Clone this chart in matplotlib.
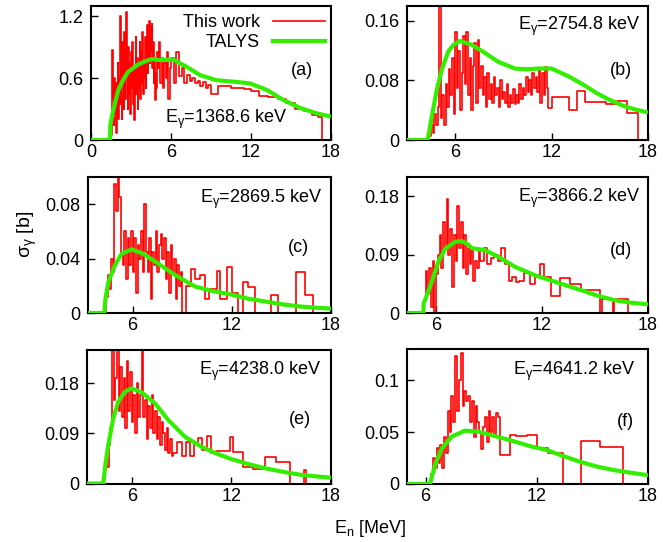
import numpy as np
import matplotlib
matplotlib.use('Agg')
import matplotlib.pyplot as plt

plt.rcParams['font.family'] = ['Liberation Sans', 'DejaVu Sans']
plt.rcParams['mathtext.fontset'] = 'custom'
plt.rcParams['mathtext.rm'] = 'Liberation Sans'
plt.rcParams['mathtext.it'] = 'Liberation Sans:italic'

RED = '#ff0000'
GREEN = '#33ee00'

# ---------------- panel (a) ----------------
a_fine = (1.5, 0.05, [0.05, 0.10, 0.87, 0.40, 0.15, 0.60, 0.25, 0.55, 0.07, 0.45,
                      0.75, 0.20, 0.60, 0.35, 1.20, 0.45, 0.20, 0.95, 0.55, 0.30,
                      1.05, 0.40, 0.80, 1.24, 0.60, 0.30, 0.90, 0.45, 0.75, 0.25,
                      0.85, 0.50, 0.95, 0.35, 0.70, 0.19, 0.60, 1.00, 0.45, 0.80,
                      0.30, 0.75, 0.50, 0.95, 0.40, 0.85, 0.55, 1.05, 0.45, 0.75,
                      0.60, 1.00, 0.50, 0.85, 1.12, 0.65, 0.95, 1.15, 0.75, 1.10,
                      0.85, 1.13, 0.70, 0.95, 0.55, 0.80, 0.39, 0.65, 0.50, 0.85])
a_mid = (5.0, 0.1, [0.70, 0.95, 0.55, 0.80, 0.50, 0.75, 0.60, 0.85, 0.40, 0.70])
a_mid2 = (6.0, 0.2, [0.80, 0.55, 0.85, 0.62, 0.70, 0.55, 0.63, 0.57, 0.60, 0.55,
                     0.57, 0.52, 0.56, 0.50, 0.53])
a_coarse_edges = [9.0, 9.5, 10.0, 10.5, 11.0, 11.5, 12.0, 12.6, 13.3, 14.0, 14.6,
                  15.3, 16.0, 16.6, 17.0, 17.3]
a_coarse_vals = [0.45, 0.52, 0.52, 0.50, 0.50, 0.49, 0.48, 0.43, 0.42, 0.40, 0.36,
                 0.30, 0.28, 0.24, 0.22]
a_talys_x = [0, 1.43, 1.45, 1.67, 2.05, 2.4, 2.78, 3.5, 4.0, 4.55, 5.2, 6.17, 7.17,
             8.17, 9.4, 10.67, 11.9, 13.2, 14.4, 15.7, 16.9, 18]
a_talys_y = [0, 0, 0.15, 0.29, 0.485, 0.58, 0.66, 0.73, 0.76, 0.785, 0.775, 0.78,
             0.71, 0.63, 0.58, 0.566, 0.55, 0.485, 0.39, 0.31, 0.26, 0.226]

# ---------------- panel (b) ----------------
b_fine = (4.4, 0.1, [0.005, 0.02, 0.01, 0.035, 0.02, 0.045, 0.2, 0.03, 0.06, 0.02,
                     0.075, 0.045, 0.095, 0.06, 0.11, 0.035, 0.145, 0.07, 0.12, 0.04,
                     0.09, 0.14, 0.075, 0.145, 0.06, 0.11, 0.04, 0.10, 0.13, 0.05,
                     0.135, 0.07])
b_mid = (7.6, 0.1, [0.10, 0.06, 0.085, 0.045, 0.09, 0.055, 0.075, 0.05, 0.085, 0.06,
                    0.07, 0.045, 0.08, 0.055, 0.065, 0.05, 0.075, 0.045, 0.06, 0.05,
                    0.068, 0.048, 0.06, 0.05, 0.075, 0.055, 0.07, 0.06, 0.085, 0.065,
                    0.08, 0.06, 0.09, 0.07, 0.085, 0.065, 0.095, 0.05, 0.09, 0.06,
                    0.098, 0.07])
b_mid2 = (11.8, 0.1, [])
b_coarse_edges = [11.8, 12.0, 13.1, 13.6, 14.1, 15.4, 16.1, 16.7, 17.4]
b_coarse_vals = [0.043, 0.058, 0.040, 0.066, 0.051, 0.048, 0.053, 0.036]
b_talys_x = [3, 4.29, 4.54, 4.85, 5.16, 5.57, 5.9, 6.3, 7.02, 7.85, 8.68, 9.72, 10.5,
             11.17, 12.0, 13.1, 14.0, 14.8, 15.6, 16.45, 17.2, 18]
b_talys_y = [0, 0, 0.031, 0.067, 0.094, 0.119, 0.128, 0.133, 0.128, 0.117, 0.105,
             0.096, 0.095, 0.096, 0.096, 0.085, 0.074, 0.063, 0.054, 0.046, 0.041,
             0.037]

# ---------------- panel (c) ----------------
c_fine = (4.4, 0.1, [0.012, 0.028, 0.018, 0.04, 0.03, 0.095, 0.075, 0.102, 0.085, 0.045,
                     0.035, 0.06, 0.025, 0.055, 0.035, 0.06, 0.03, 0.055, 0.015, 0.05,
                     0.04, 0.06, 0.03, 0.08, 0.045, 0.03, 0.055, 0.01, 0.045, 0.035,
                     0.06, 0.03, 0.05, 0.058, 0.04, 0.055, 0.025, 0.045, 0.015, 0.05,
                     0.03, 0.04, 0.01, 0.035, 0.02, 0.03])
c_mid = (9.0, 0.2, [])
c_mid2 = (9.0, 0.2, [])
c_coarse_edges = [9.0, 9.2, 9.55, 9.8, 10.1, 10.4, 10.6, 11.1, 11.3, 11.7, 12.0, 12.4,
                  12.7, 13.0, 13.4, 14.4, 14.8, 15.9, 16.4, 16.9]
c_coarse_vals = [0.0, 0.02, 0.032, 0.025, 0.028, 0.01, 0.018, 0.031, 0.01, 0.034,
                 0.015, 0.0, 0.023, 0.019, 0.0, 0.013, 0.0, 0.03, 0.013]
c_talys_x = [3.3, 4.29, 4.35, 4.53, 4.93, 5.33, 5.94, 6.64, 7.55, 8.56, 9.77, 10.88,
             12.0, 13.0, 14.1, 15.0, 16.1, 17.0, 18]
c_talys_y = [0, 0, 0.01, 0.0228, 0.035, 0.0436, 0.0468, 0.0436, 0.0363, 0.028, 0.0195,
             0.016, 0.0135, 0.0105, 0.0083, 0.0065, 0.0048, 0.004, 0.0032]

# ---------------- panel (d) ----------------
d_fine = (5.3, 0.1, [0.02, 0.065, 0.03, 0.07, 0.01, 0.08, 0.0, 0.06, 0.09, 0.12,
                     0.07, 0.14, 0.10, 0.176, 0.09, 0.13, 0.04, 0.12, 0.08, 0.165,
                     0.10, 0.14, 0.07, 0.12, 0.06, 0.10, 0.075, 0.095, 0.05, 0.08,
                     0.07, 0.095])
d_mid = (8.5, 0.2, [0.08, 0.10, 0.075, 0.085, 0.09, 0.08, 0.10, 0.075, 0.05, 0.055,
                    0.048])
d_mid2 = (10.7, 0.2, [])
d_coarse_edges = [10.7, 11.0, 11.3, 11.6, 11.9, 12.1, 12.5, 13.0, 13.6, 14.2, 15.3,
                  15.4, 16.0, 16.1, 16.85]
d_coarse_vals = [0.05, 0.062, 0.045, 0.058, 0.076, 0.055, 0.026, 0.054, 0.045, 0.036,
                 0.0, 0.022, 0.0, 0.022]
d_talys_x = [4.35, 5.28, 5.29, 5.37, 5.75, 6.13, 6.51, 7.08, 7.46, 7.8, 8.03, 8.78,
             9.54, 10.49, 11.62, 12.76, 14.18, 15.1, 16.07, 17.0, 18.0]
d_talys_y = [0, 0, 0.015, 0.0196, 0.048, 0.079, 0.099, 0.11, 0.111, 0.106, 0.100,
             0.097, 0.0865, 0.071, 0.058, 0.048, 0.0355, 0.027, 0.020, 0.016, 0.0134]

# ---------------- panel (e) ----------------
e_fine = (4.3, 0.1, [0.02, 0.042, 0.03, 0.07, 0.10, 0.25, 0.15, 0.19, 0.25, 0.13,
                     0.21, 0.12, 0.19, 0.10, 0.22, 0.13, 0.20, 0.11, 0.16, 0.09,
                     0.18, 0.12, 0.16, 0.25, 0.12, 0.15, 0.08, 0.14, 0.10, 0.16,
                     0.09, 0.13, 0.08, 0.12, 0.07, 0.11, 0.09, 0.06, 0.10, 0.055,
                     0.08, 0.05])
e_mid = (8.5, 0.25, [0.055, 0.075, 0.05, 0.075, 0.05, 0.072, 0.082, 0.06, 0.086])
e_mid2 = (10.75, 0.25, [])
e_coarse_edges = [10.75, 11.1, 11.9, 12.1, 12.7, 13.3, 14.0, 14.7, 15.5, 16.4, 16.5]
e_coarse_vals = [0.055, 0.058, 0.084, 0.057, 0.03, 0.026, 0.048, 0.038, 0.0, 0.025]
e_talys_x = [3.3, 4.28, 4.43, 4.58, 4.88, 5.18, 5.59, 5.99, 6.59, 7.4, 8.2, 9.2, 10.2,
             11.0, 11.9, 13.0, 14.1, 15.1, 16.1, 17.0, 18.0]
e_talys_y = [0, 0, 0.039, 0.069, 0.117, 0.147, 0.165, 0.171, 0.164, 0.144, 0.114,
             0.084, 0.066, 0.055, 0.045, 0.035, 0.027, 0.021, 0.016, 0.013, 0.0105]

# ---------------- panel (f) ----------------
f_fine = (6.3, 0.1, [0.01, 0.025, 0.015, 0.035, 0.02, 0.038, 0.015, 0.045, 0.03, 0.07,
                     0.05, 0.085, 0.06, 0.123, 0.07, 0.10, 0.126, 0.075, 0.09, 0.08,
                     0.085, 0.06, 0.08, 0.045, 0.075, 0.06, 0.05, 0.034, 0.055, 0.065,
                     0.04, 0.07, 0.05, 0.065, 0.045, 0.068, 0.065])
f_mid = (10.0, 0.2, [])
f_mid2 = (10.0, 0.2, [])
f_coarse_edges = [10.0, 10.55, 10.9, 11.46, 12.0, 12.62, 13.43, 14.4, 15.41, 16.67]
f_coarse_vals = [0.028, 0.047, 0.046, 0.047, 0.035, 0.03, 0.0, 0.041, 0.036]
f_talys_x = [5, 6.24, 6.51, 6.87, 7.41, 8.13, 8.85, 9.57, 10.65, 11.73, 12.54, 13.4,
             14.33, 15.2, 16.13, 17.0, 18]
f_talys_y = [0, 0, 0.018, 0.034, 0.0456, 0.0514, 0.0504, 0.047, 0.0417, 0.036, 0.0328,
             0.027, 0.0215, 0.017, 0.0135, 0.011, 0.0085]

labels = ['(a)', '(b)', '(c)', '(d)', '(e)', '(f)']
egammas = ['1368.6', '2754.8', '2869.5', '3866.2', '4238.0', '4641.2']
xlims = [(0, 18), (3, 18), (3.3, 18), (4.35, 18), (3.3, 18), (5, 18)]
ylims = [(0, 1.3), (0, 0.18), (0, 0.1), (0, 0.21), (0, 0.24), (0, 0.13)]
xticks = [[0, 6, 12, 18], [6, 12, 18], [6, 12, 18], [6, 12, 18], [6, 12, 18], [6, 12, 18]]
yticks = [[0, 0.6, 1.2], [0, 0.08, 0.16], [0, 0.04, 0.08], [0, 0.09, 0.18],
          [0, 0.09, 0.18], [0, 0.05, 0.1]]
ytlabels = [['0', '0.6', '1.2'], ['0', '0.08', '0.16'], ['0', '0.04', '0.08'],
            ['0', '0.09', '0.18'], ['0', '0.09', '0.18'], ['0', '0.05', '0.1']]

segs = [(a_fine, a_mid, a_mid2), (b_fine, b_mid, b_mid2), (c_fine, c_mid, c_mid2),
        (d_fine, d_mid, d_mid2), (e_fine, e_mid, e_mid2), (f_fine, f_mid, f_mid2)]
cedges = [a_coarse_edges, b_coarse_edges, c_coarse_edges, d_coarse_edges,
          e_coarse_edges, f_coarse_edges]
cvals = [a_coarse_vals, b_coarse_vals, c_coarse_vals, d_coarse_vals, e_coarse_vals,
         f_coarse_vals]
tx = [a_talys_x, b_talys_x, c_talys_x, d_talys_x, e_talys_x, f_talys_x]
ty = [a_talys_y, b_talys_y, c_talys_y, d_talys_y, e_talys_y, f_talys_y]

# layout (pixels of a 663x542 canvas): left, right, top, bottom
W, H = 663, 542
boxes = [(91, 331, 6, 140), (407, 648, 6, 140),
         (88, 331, 177, 313), (407, 648, 177, 313),
         (87, 331, 350, 483.5), (407, 648, 349, 484)]
label_pos = [(0.88, 0.515), (0.888, 0.515), (0.868, 0.485), (0.888, 0.463),
             (0.873, 0.48), (0.905, 0.46)]
eg_pos = [(0.817, 0.125), (0.967, 0.82), (0.963, 0.807), (0.967, 0.818),
          (0.963, 0.813), (0.946, 0.807)]

fig = plt.figure(figsize=(W / 100, H / 100), dpi=100)

for i in range(6):
    l, r, t, b = boxes[i]
    ax = fig.add_axes([l / W, 1 - b / H, (r - l) / W, (b - t) / H])
    xmin = xlims[i][0]
    edges = [xmin]
    vals = [0.0]
    for start, step, v in segs[i]:
        edges.extend(list(start + step * np.arange(len(v))))
        vals.extend(v)
    edges.extend(cedges[i][:-1])
    vals.extend(cvals[i])
    edges.append(cedges[i][-1])
    vals.append(0.0)
    ax.step(edges, vals, where='post', color=RED, lw=1.2, zorder=2)
    ax.plot(tx[i], ty[i], color=GREEN, lw=3.0, zorder=3, solid_capstyle='butt')
    ax.set_xlim(*xlims[i])
    ax.set_ylim(*ylims[i])
    ax.set_xticks(xticks[i])
    ax.set_yticks(yticks[i])
    ax.set_yticklabels(ytlabels[i])
    ax.tick_params(direction='in', length=5, width=1, labelsize=13)
    ax.tick_params(axis='x', pad=3)
    ax.tick_params(axis='y', pad=5.5)
    for s in ax.spines.values():
        s.set_linewidth(1.5)
    ax.text(label_pos[i][0], label_pos[i][1], labels[i], transform=ax.transAxes,
            fontsize=13, ha='center', va='center')
    ax.text(eg_pos[i][0], eg_pos[i][1],
            r'E$_\mathregular{\gamma}$=' + egammas[i] + ' keV',
            transform=ax.transAxes, fontsize=13, ha='right', va='baseline')
    if i == 0:
        ax.text(0.704, 0.841, 'This work', transform=ax.transAxes, fontsize=13,
                ha='right', va='baseline')
        ax.plot([0.758, 0.975], [0.89, 0.89], transform=ax.transAxes, color=RED, lw=1.2)
        ax.text(0.704, 0.696, 'TALYS', transform=ax.transAxes, fontsize=13,
                ha='right', va='baseline')
        ax.plot([0.758, 0.975], [0.741, 0.741], transform=ax.transAxes, color=GREEN,
                lw=3.0)

fig.text(0.042, 0.568, r'σ$_\mathregular{γ}$ [b]', rotation=90,
         fontsize=14, ha='center', va='center')
fig.text(0.558, 0.0166, r'E$_\mathregular{n}$ [MeV]', fontsize=13, ha='center',
         va='baseline')

fig.savefig('out.png', dpi=100)
